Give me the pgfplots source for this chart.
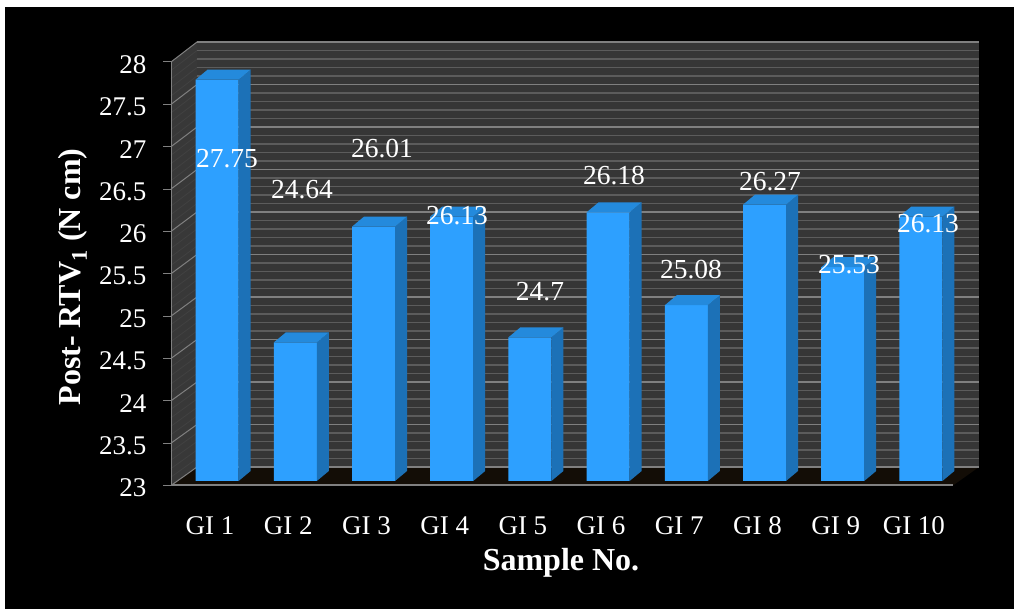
\documentclass[border=0pt]{standalone}
\usepackage{pgfplots}
\pgfplotsset{compat=1.18}
\usepackage{pgfplotstable}
\usepackage{fontspec}
\setmainfont{Liberation Serif}

\definecolor{barfront}{RGB}{45,160,255}
\definecolor{barside}{RGB}{28,113,183}
\definecolor{bartop}{RGB}{36,138,220}
\definecolor{wallfill}{RGB}{54,54,54}
\definecolor{gridminor}{RGB}{92,92,92}
\definecolor{gridmajor}{RGB}{128,128,128}
\definecolor{axisline}{RGB}{128,128,128}

\pgfplotstableread{
pos value
0.5 27.75
1.5 24.64
2.5 26.01
3.5 26.13
4.5 24.70
5.5 26.18
6.5 25.08
7.5 26.27
8.5 25.53
9.5 26.13
}\samples

% Top and right faces of one extruded bar; \barh is the height of the front face.
\pgfdeclareplotmark{barextrude}{%
  \pgfsetlinewidth{0pt}%
  \pgfsetfillcolor{barside}%
  \pgfpathmoveto{\pgfpoint{21.5pt}{0pt}}%
  \pgfpathlineto{\pgfpoint{33.5pt}{10pt}}%
  \pgfpathlineto{\pgfpoint{33.5pt}{10pt-\barh pt}}%
  \pgfpathlineto{\pgfpoint{21.5pt}{-\barh pt}}%
  \pgfpathclose\pgfusepath{fill}%
  \pgfsetfillcolor{bartop}%
  \pgfpathmoveto{\pgfpoint{-21.5pt}{0pt}}%
  \pgfpathlineto{\pgfpoint{-9.5pt}{10pt}}%
  \pgfpathlineto{\pgfpoint{33.5pt}{10pt}}%
  \pgfpathlineto{\pgfpoint{21.5pt}{0pt}}%
  \pgfpathclose\pgfusepath{fill}%
}

\pgfplotsset{
  chart base/.style={
    scale only axis, clip=false,
    xmin=0, xmax=10, ymin=23, ymax=28,
  },
}

\begin{document}
\begin{tikzpicture}[x=1pt,y=1pt]
\fill[white] (0,0) rectangle (1014,610);
\fill[black] (5,1) rectangle (1014,603);
\useasboundingbox (0,0) rectangle (1014,610);

% Floor of the plot box
\fill[black!90!brown] (171,124.5) -- (953,124.5) -- (979,143) -- (197,143) -- cycle;

% Side wall with its slanted gridlines
\fill[black!78!white] (171,124.5) -- (197,143) -- (197,568) -- (171,548) -- cycle;
\foreach \k in {0,...,50}{
  \pgfmathsetmacro{\yf}{124.5+\k*8.47}
  \pgfmathsetmacro{\yb}{143+\k*8.5}
  \pgfmathtruncatemacro{\ismajor}{mod(\k,5)==0}
  \ifnum\ismajor=1
    \draw[gridmajor,line width=1pt] (171,\yf) -- (197,\yb);
  \else
    \draw[gridminor!70!black,line width=0.8pt] (171,\yf) -- (197,\yb);
  \fi
}

% Back wall
\begin{axis}[chart base, at={(197pt,143pt)}, anchor=origin,
    width=782pt, height=425pt,
    axis line style={draw=none},
    axis background/.style={fill=wallfill},
    xtick=\empty, ytick={23,23.5,...,28.01},
    yticklabels={}, minor y tick num=4,
    major tick length=0pt, minor tick length=0pt,
    ymajorgrids, yminorgrids,
    major grid style={gridmajor,line width=1.6pt},
    minor grid style={gridminor,line width=1.1pt},
  ]
\end{axis}

% Bars
\begin{axis}[chart base, at={(178pt,129pt)}, anchor=origin,
    width=782pt, height=422.5pt,
    axis lines=none,
  ]
  \addplot[ybar, bar width=43pt, draw=none, fill=barfront]
    table[x=pos,y=value] {\samples};
  \addplot[only marks, scatter, mark=barextrude,
    visualization depends on={(\thisrow{value}-23)*84.5 \as \barh}]
    table[x=pos,y=value] {\samples};
\end{axis}

% Front frame, ticks and labels
\begin{axis}[chart base, at={(171pt,124.5pt)}, anchor=origin,
    width=782pt, height=423.5pt,
    axis x line*=bottom, axis y line*=left,
    axis line style={axisline,line width=1pt},
    y axis line style={line width=1pt},
    x axis line style={line width=2pt},
    every outer x axis line/.append style={-},
    every outer y axis line/.append style={-},
    xtick={0.5,1.5,...,9.5},
    xticklabels={GI 1,GI 2,GI 3,GI 4,GI 5,GI 6,GI 7,GI 8,GI 9,GI 10},
    x tick style={draw=none},
    ytick={23,23.5,...,28.01},
    yticklabels={23,23.5,24,24.5,25,25.5,26,26.5,27,27.5,28},
    y tick style={axisline,line width=1pt},
    tick align=outside, major tick length=8pt,
    ticklabel style={text=white,font=\fontsize{27}{30}\selectfont},
    y tick label style={xshift=-13pt,yshift=-2.5pt},
    x tick label style={anchor=center,yshift=-32.5pt},
  ]
\end{axis}

% Axis titles
\node[white,font=\bfseries\fontsize{32}{36}\selectfont] at (561,47) {Sample No.};
\node[white,rotate=90,font=\bfseries\fontsize{32}{36}\selectfont] at (73,333)
  {Post- RTV\textsubscript{1} (N cm)};

% Value labels
\foreach \px/\py/\t in {227/159/27.75,302/190/24.64,382/149/26.01,457/216/26.13,
    540/292/24.7,614/176/26.18,691/270/25.08,770/182/26.27,849/265/25.53,928/224/26.13}{
  \node[white,font=\fontsize{27.5}{30}\selectfont] at (\px,610-\py) {\t};
}
\end{tikzpicture}
\end{document}
